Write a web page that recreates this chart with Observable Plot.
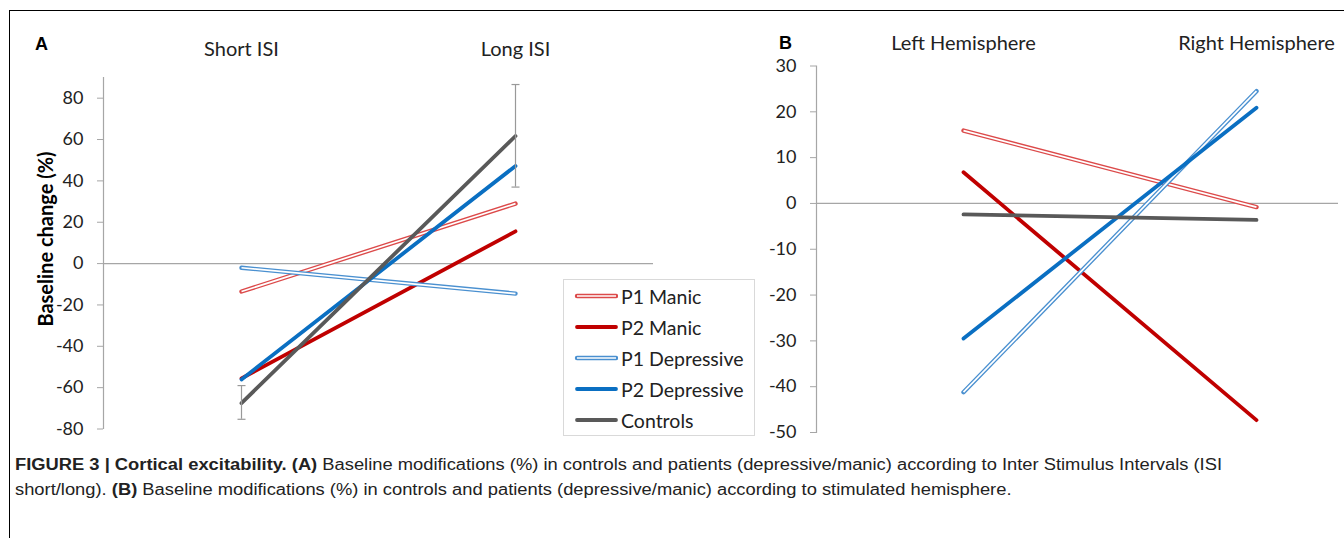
<!DOCTYPE html>
<html><head><meta charset="utf-8">
<script src="https://cdn.jsdelivr.net/npm/d3@7"></script>
<script src="https://cdn.jsdelivr.net/npm/@observablehq/plot@0.6"></script>
<style>
body{margin:0;background:#fff;}
#root{position:relative;width:1344px;height:538px;overflow:hidden;font-family:Lato,"Open Sans",sans-serif;color:#222;}
.plab{position:absolute;font-family:"Liberation Sans",Arial,sans-serif;font-weight:bold;font-size:18px;line-height:18px;color:#000;}
.ytitle{position:absolute;font-weight:bold;font-size:20px;line-height:24px;color:#000;transform:rotate(-90deg);transform-origin:center center;white-space:nowrap;text-align:center;}
.legend{position:absolute;left:563px;top:279px;width:192px;height:157px;border:1px solid #d9d9d9;background:#fff;box-sizing:border-box;}
.legrow{position:absolute;left:10px;height:30px;display:flex;align-items:center;font-size:19.5px;color:#222;white-space:nowrap;}
.legrow svg{margin-right:3px;}
.caption{position:absolute;left:15px;top:452px;font-family:"Liberation Sans",Arial,sans-serif;font-size:16px;line-height:25px;color:#222;white-space:nowrap;transform-origin:0 0;}
.frame{position:absolute;left:9px;top:10px;width:1400px;height:600px;border-top:1px solid #000;border-left:1px solid #000;}
</style></head><body><div id="root"></div>
<script>
const series = ["P1 Manic","P2 Manic","P1 Depressive","P2 Depressive","Controls"];
const isiCategories = ["Short ISI","Long ISI"];
const isiShort = [-13.5,-55.5,-2,-56,-67.5];
const isiLong = [29,15.6,-14.5,47.2,61.7];
const controlsError = [
  {cat:"Short ISI", lo:-75.3, hi:-59},
  {cat:"Long ISI", lo:37, hi:86.6}
];
const hemiCategories = ["Left Hemisphere","Right Hemisphere"];
const hemiLeft = [15.9,6.8,-41.2,-29.5,-2.4];
const hemiRight = [-0.8,-47.3,24.5,20.9,-3.6];
const ticksA = [-80,-60,-40,-20,0,20,40,60,80];
const ticksB = [-50,-40,-30,-20,-10,0,10,20,30];

const seriesStyle = {
  "P1 Manic": {color:"#dc4a4a", hollow:true},
  "P2 Manic": {color:"#c00000", hollow:false},
  "P1 Depressive": {color:"#4a90d0", hollow:true},
  "P2 Depressive": {color:"#0a6fc2", hollow:false},
  "Controls": {color:"#595959", hollow:false}
};

const root = document.getElementById("root");
const font = "Lato, 'Open Sans', sans-serif";
const axisGrey = "#a6a6a6";

const capSymbol = {
  draw(context, size) {
    const w = Math.sqrt(size / Math.PI);
    context.moveTo(-w, 0);
    context.lineTo(w, 0);
  }
};

function rowsFor(cats, a, b){
  return series.flatMap((s,i)=>[{series:s, cat:cats[0], value:a[i]},{series:s, cat:cats[1], value:b[i]}]);
}
function lineMarks(rows){
  return series.flatMap(s=>{
    const d = rows.filter(r=>r.series===s);
    const st = seriesStyle[s];
    if (st.hollow) return [
      Plot.line(d,{x:"cat",y:"value",stroke:st.color,strokeWidth:4.4,strokeLinecap:"round"}),
      Plot.line(d,{x:"cat",y:"value",stroke:"white",strokeWidth:1.7,strokeLinecap:"butt"})
    ];
    return [Plot.line(d,{x:"cat",y:"value",stroke:st.color,strokeWidth:3.8,strokeLinecap:"round"})];
  });
}
const fmt = d => String(d);

// Panel A
const rowsA = rowsFor(isiCategories, isiShort, isiLong);
const plotA = Plot.plot({
  width: 770, height: 450,
  marginLeft: 103, marginTop: 77, marginBottom: 22, marginRight: 117,
  x: {type:"point", domain: isiCategories, range:[241,515], padding:0},
  y: {domain:[-80,90], range:[428.5,77]},
  style: {fontFamily: font, fontSize:"18px", color:"#222", background:"transparent"},
  marks: [
    Plot.ruleY([0],{stroke:axisGrey, strokeWidth:1.2}),
    Plot.frame({anchor:"left", stroke:axisGrey, strokeWidth:1.2}),
    Plot.axisY({ticks: ticksA, tickFormat: fmt, tickSize:6, tickPadding:14, label:null, stroke:axisGrey, fill:"#222", fontSize:18}),
    Plot.axisX({anchor:"top", tickSize:0, tickPadding:22, label:null, fill:"#222", fontSize:20}),
    ...lineMarks(rowsA),
    Plot.ruleX(controlsError,{x:"cat", y1:"lo", y2:"hi", stroke:"#999", strokeWidth:1.2}),
    Plot.dot(controlsError,{x:"cat", y:"lo", symbol:capSymbol, r:4, stroke:"#999", fill:"none", strokeWidth:1.2}),
    Plot.dot(controlsError,{x:"cat", y:"hi", symbol:capSymbol, r:4, stroke:"#999", fill:"none", strokeWidth:1.2})
  ]
});
plotA.style.position = "absolute"; plotA.style.left = "0px"; plotA.style.top = "0px";

// Panel B
const rowsB = rowsFor(hemiCategories, hemiLeft, hemiRight);
const plotB = Plot.plot({
  width: 604, height: 450,
  marginLeft: 76, marginTop: 65.5, marginBottom: 18, marginRight: 6,
  x: {type:"point", domain: hemiCategories, range:[223,516], padding:0},
  y: {domain:[-50,30], range:[432,65.5]},
  style: {fontFamily: font, fontSize:"18px", color:"#222", background:"transparent", overflow:"visible"},
  marks: [
    Plot.ruleY([0],{stroke:axisGrey, strokeWidth:1.2}),
    Plot.frame({anchor:"left", stroke:axisGrey, strokeWidth:1.2}),
    Plot.axisY({ticks: ticksB, tickFormat: fmt, tickSize:6, tickPadding:14, label:null, stroke:axisGrey, fill:"#222", fontSize:18}),
    Plot.axisX({anchor:"top", tickSize:0, tickPadding:16, label:null, fill:"#222", fontSize:20}),
    ...lineMarks(rowsB)
  ]
});
plotB.style.position = "absolute"; plotB.style.left = "740px"; plotB.style.top = "0px";

const frame = document.createElement("div"); frame.className = "frame"; root.appendChild(frame);
root.appendChild(plotA);
root.appendChild(plotB);

function addDiv(cls, html, css){
  const d = document.createElement("div"); d.className = cls; d.innerHTML = html;
  Object.assign(d.style, css||{}); root.appendChild(d); return d;
}
addDiv("plab","A",{left:"35px",top:"35px"});
addDiv("plab","B",{left:"779px",top:"34px"});
addDiv("ytitle","Baseline change (%)",{left:"-55px",top:"226.5px",width:"200px"});

// Legend
const leg = addDiv("legend","");
series.forEach((s,i)=>{
  const st = seriesStyle[s];
  const row = document.createElement("div"); row.className = "legrow";
  row.style.top = (1 + i*31) + "px";
  const svg = d3.create("svg").attr("width",44).attr("height",10);
  svg.append("line").attr("x1",3).attr("x2",42).attr("y1",5).attr("y2",5)
    .attr("stroke",st.color).attr("stroke-width",st.hollow?4.4:3.8).attr("stroke-linecap","round");
  if (st.hollow) svg.append("line").attr("x1",3).attr("x2",42).attr("y1",5).attr("y2",5)
    .attr("stroke","white").attr("stroke-width",1.7);
  row.appendChild(svg.node());
  const t = document.createElement("span"); t.textContent = s; row.appendChild(t);
  leg.appendChild(row);
});

const cap = addDiv("caption", "<span id='cl1'><b>FIGURE 3 | Cortical excitability. (A)</b> Baseline modifications (%) in controls and patients (depressive/manic) according to Inter Stimulus Intervals (ISI</span><br>short/long). <b>(B)</b> Baseline modifications (%) in controls and patients (depressive/manic) according to stimulated hemisphere.");
const w1 = document.getElementById("cl1").getBoundingClientRect().width;
cap.style.transform = `scaleX(${1207 / w1})`;
</script>
</body></html>
